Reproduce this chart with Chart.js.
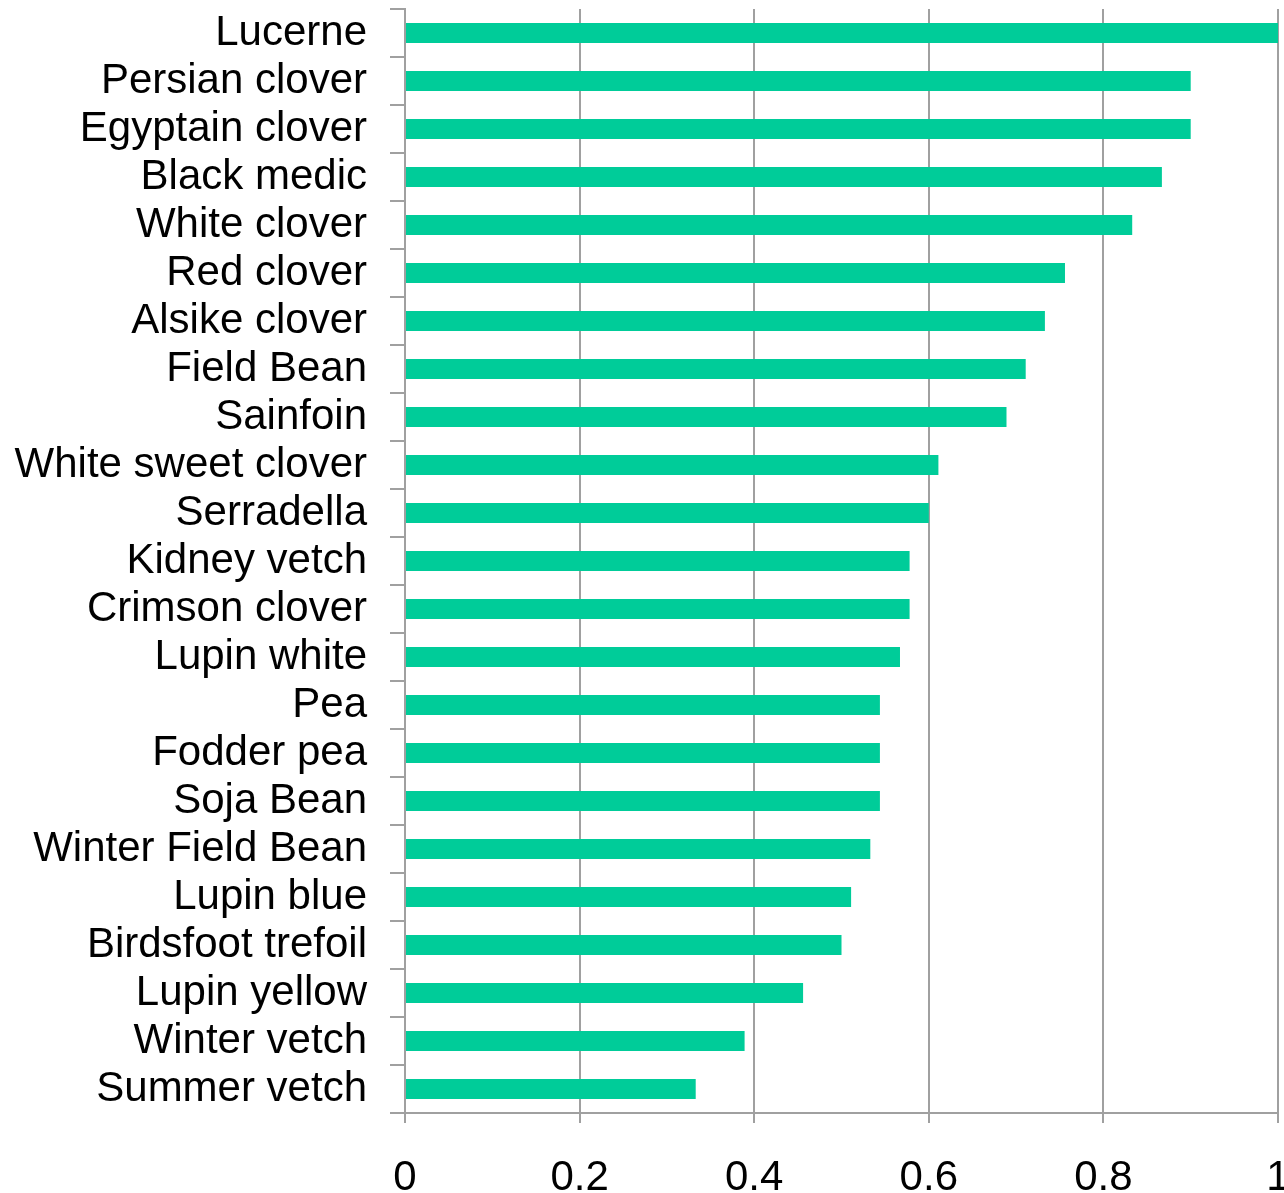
<!DOCTYPE html>
<html>
<head>
<meta charset="utf-8">
<script src="https://cdn.jsdelivr.net/npm/chart.js@4"></script>
<style>
  html, body { margin: 0; padding: 0; background: #fff; }
  #wrap { width: 1284px; height: 1193px; }
</style>
</head>
<body>
<div id="wrap"><canvas id="chart"></canvas></div>
<script>
// Legume species, top to bottom
const species = [
    'Lucerne', 'Persian clover', 'Egyptain clover', 'Black medic', 'White clover',
    'Red clover', 'Alsike clover', 'Field Bean', 'Sainfoin', 'White sweet clover',
    'Serradella', 'Kidney vetch', 'Crimson clover', 'Lupin white', 'Pea',
    'Fodder pea', 'Soja Bean', 'Winter Field Bean', 'Lupin blue', 'Birdsfoot trefoil',
    'Lupin yellow', 'Winter vetch', 'Summer vetch'
];
const values = [
    1.0, 0.9, 0.9, 0.867, 0.833,
    0.756, 0.733, 0.711, 0.689, 0.611,
    0.6, 0.578, 0.578, 0.567, 0.544,
    0.544, 0.544, 0.533, 0.511, 0.5,
    0.456, 0.389, 0.333
];
const xTicks = [0, 0.2, 0.4, 0.6, 0.8, 1];

const gridColor = '#a0a0a0';
const labelFont = { family: '"Liberation Sans", Arial, sans-serif', size: 42 };

const ctx = document.getElementById('chart').getContext('2d');
const chart = new Chart(ctx, {
    type: 'bar',
    data: {
        labels: species,
        datasets: [{
            data: values,
            backgroundColor: '#00cc99',
            borderWidth: 0,
            barPercentage: 0.42,
            categoryPercentage: 1
        }]
    },
    options: {
        indexAxis: 'y',
        responsive: true,
        maintainAspectRatio: false,
        animation: false,
        layout: { padding: { top: 9, right: 6, left: 0, bottom: 0 } },
        plugins: {
            legend: { display: false },
            tooltip: { enabled: false }
        },
        scales: {
            x: {
                min: 0,
                max: 1,
                afterBuildTicks: (scale) => {
                    scale.ticks = xTicks.map(v => ({ value: v }));
                },
                afterFit: (scale) => {
                    scale.height = 80;
                    scale.paddingLeft = 0;
                    scale.paddingRight = 0;
                },
                grid: {
                    color: gridColor,
                    lineWidth: 2,
                    tickLength: 10
                },
                border: { color: gridColor, width: 2 },
                ticks: {
                    color: '#000',
                    font: labelFont,
                    padding: 30,
                    maxRotation: 0,
                    callback: (v) => String(+v.toFixed(1))
                }
            },
            y: {
                afterFit: (scale) => {
                    scale.width = 405;
                    scale.paddingTop = 0;
                    scale.paddingBottom = 0;
                },
                grid: {
                    display: true,
                    drawOnChartArea: false,
                    color: gridColor,
                    lineWidth: 2,
                    tickLength: 15
                },
                border: { color: gridColor, width: 2 },
                ticks: {
                    color: '#000',
                    font: labelFont,
                    padding: 23,
                    autoSkip: false
                }
            }
        }
    }
});
</script>
</body>
</html>
